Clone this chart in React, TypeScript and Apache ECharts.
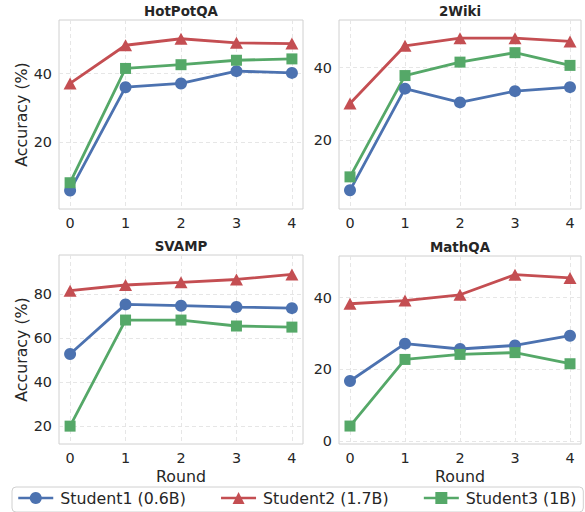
import React, { useEffect, useRef } from 'react';
import * as echarts from 'echarts';

const rounds = [0, 1, 2, 3, 4];
const panelTitles = ['HotPotQA', '2Wiki', 'SVAMP', 'MathQA'];
const seriesNames = ['Student1 (0.6B)', 'Student2 (1.7B)', 'Student3 (1B)'];

const hotpotStudent1 = [5.7, 36.0, 37.1, 40.7, 40.2];
const hotpotStudent2 = [37.1, 48.3, 50.2, 49.0, 48.8];
const hotpotStudent3 = [8.0, 41.5, 42.6, 43.9, 44.3];

const wikiStudent1 = [6.2, 34.2, 30.4, 33.5, 34.6];
const wikiStudent2 = [30.1, 46.0, 48.1, 48.1, 47.2];
const wikiStudent3 = [9.9, 37.8, 41.5, 44.1, 40.6];

const svampStudent1 = [52.8, 75.3, 74.7, 74.1, 73.6];
const svampStudent2 = [81.5, 84.1, 85.3, 86.6, 88.9];
const svampStudent3 = [20.1, 68.2, 68.2, 65.5, 65.0];

const mathqaStudent1 = [16.8, 27.2, 25.7, 26.7, 29.4];
const mathqaStudent2 = [38.3, 39.2, 40.8, 46.4, 45.5];
const mathqaStudent3 = [4.25, 22.8, 24.2, 24.7, 21.6];

const yMins = [0.3, 1.05, 12, -0.75];
const yMaxs = [55.7, 53.1, 97.7, 51.6];
const yTickStep = 20;
const xMin = -0.2;
const xMax = 4.2;

const panelData = [
  [hotpotStudent1, hotpotStudent2, hotpotStudent3],
  [wikiStudent1, wikiStudent2, wikiStudent3],
  [svampStudent1, svampStudent2, svampStudent3],
  [mathqaStudent1, mathqaStudent2, mathqaStudent3],
];

const colors = ['#4C72B0', '#C44E52', '#55A868'];
const symbols = ['circle', 'triangle', 'rect'];
const symbolSizes: any[] = [12, [13, 12], 11];

const grids = [
  { left: 59, top: 20, width: 244, height: 189 },
  { left: 339, top: 20, width: 242, height: 189 },
  { left: 59, top: 255, width: 244, height: 189 },
  { left: 339, top: 256, width: 242, height: 188 },
];

const FONT = '"DejaVu Sans", "Noto Sans", sans-serif';
const TEXT = '#262626';

export default function App() {
  const ref = useRef<HTMLDivElement>(null);
  useEffect(() => {
    if (!ref.current) return;
    const chart = echarts.init(ref.current, null, { renderer: 'svg' });

    const xAxis = grids.map((g, i) => ({
      type: 'value',
      gridIndex: i,
      min: xMin,
      max: xMax,
      splitNumber: 4,
      minInterval: 1,
      maxInterval: 1,
      name: i >= 2 ? 'Round' : '',
      nameLocation: 'middle',
      nameGap: 24,
      nameTextStyle: { fontFamily: FONT, fontSize: 15.8, color: TEXT },
      axisLine: { show: false },
      axisTick: { show: false },
      axisLabel: {
        fontFamily: FONT,
        fontSize: 14.4,
        color: TEXT,
        margin: 7,
        formatter: (v: number) => (Math.abs(v - Math.round(v)) < 1e-6 ? String(Math.round(v)) : ''),
      },
      splitLine: {
        show: true,
        showMinLine: false,
        showMaxLine: false,
        lineStyle: { type: [4, 3], color: '#e3e3e3', width: 0.9 },
      },
    }));

    const yAxis = grids.map((g, i) => ({
      type: 'value',
      gridIndex: i,
      min: yMins[i],
      max: yMaxs[i],
      splitNumber: 3,
      minInterval: yTickStep,
      maxInterval: yTickStep,
      name: i % 2 === 0 ? 'Accuracy (%)' : '',
      nameLocation: 'middle',
      nameGap: 30,
      nameTextStyle: { fontFamily: FONT, fontSize: 15.8, color: TEXT },
      axisLine: { show: false },
      axisTick: { show: false },
      axisLabel: {
        fontFamily: FONT,
        fontSize: 14.4,
        color: TEXT,
        margin: 7,
        formatter: (v: number) => {
          const r = Math.round(v / yTickStep) * yTickStep;
          return Math.abs(v - r) < 1e-6 ? String(r) : '';
        },
      },
      splitLine: {
        show: true,
        showMinLine: false,
        showMaxLine: false,
        lineStyle: { type: [4, 3], color: '#e3e3e3', width: 0.9 },
      },
    }));

    const series: any[] = [];
    panelData.forEach((panel, i) => {
      panel.forEach((vals, k) => {
        series.push({
          type: 'line',
          name: seriesNames[k],
          xAxisIndex: i,
          yAxisIndex: i,
          data: rounds.map((r, j) => [r, vals[j]]),
          symbol: symbols[k],
          symbolSize: symbolSizes[k],
          showAllSymbol: true,
          lineStyle: { color: colors[k], width: 2.8 },
          itemStyle: { color: colors[k] },
          emphasis: { disabled: true },
        });
      });
    });

    const graphic = grids.map((g, i) => ({
      type: 'text',
      x: g.left + g.width / 2,
      y: g.top - 8.5,
      style: {
        text: panelTitles[i],
        textAlign: 'center',
        textVerticalAlign: 'middle',
        font: `bold 13.4px ${FONT}`,
        fill: TEXT,
      },
    }));

    chart.setOption({
      animation: false,
      backgroundColor: '#ffffff',
      grid: grids.map((g) => ({
        ...g,
        show: true,
        borderColor: '#d0d0d0',
        borderWidth: 1,
        backgroundColor: 'transparent',
      })),
      xAxis,
      yAxis,
      series,
      graphic,
      legend: {
        data: seriesNames,
        left: 12,
        top: 487,
        orient: 'horizontal',
        itemWidth: 35,
        itemHeight: 15,
        itemGap: 34,
        padding: [3, 7, 6, 5],
        borderColor: '#d0d0d0',
        borderWidth: 1,
        borderRadius: 4,
        lineStyle: { width: 2.5 },
        textStyle: { fontFamily: FONT, fontSize: 15.8, color: TEXT, padding: [0, 0, 0, 2] },
      },
    });
    return () => chart.dispose();
  }, []);
  return (
    <div
      ref={ref}
      style={{ position: 'fixed', left: 0, top: 0, width: 585, height: 512, background: '#fff' }}
    />
  );
}
